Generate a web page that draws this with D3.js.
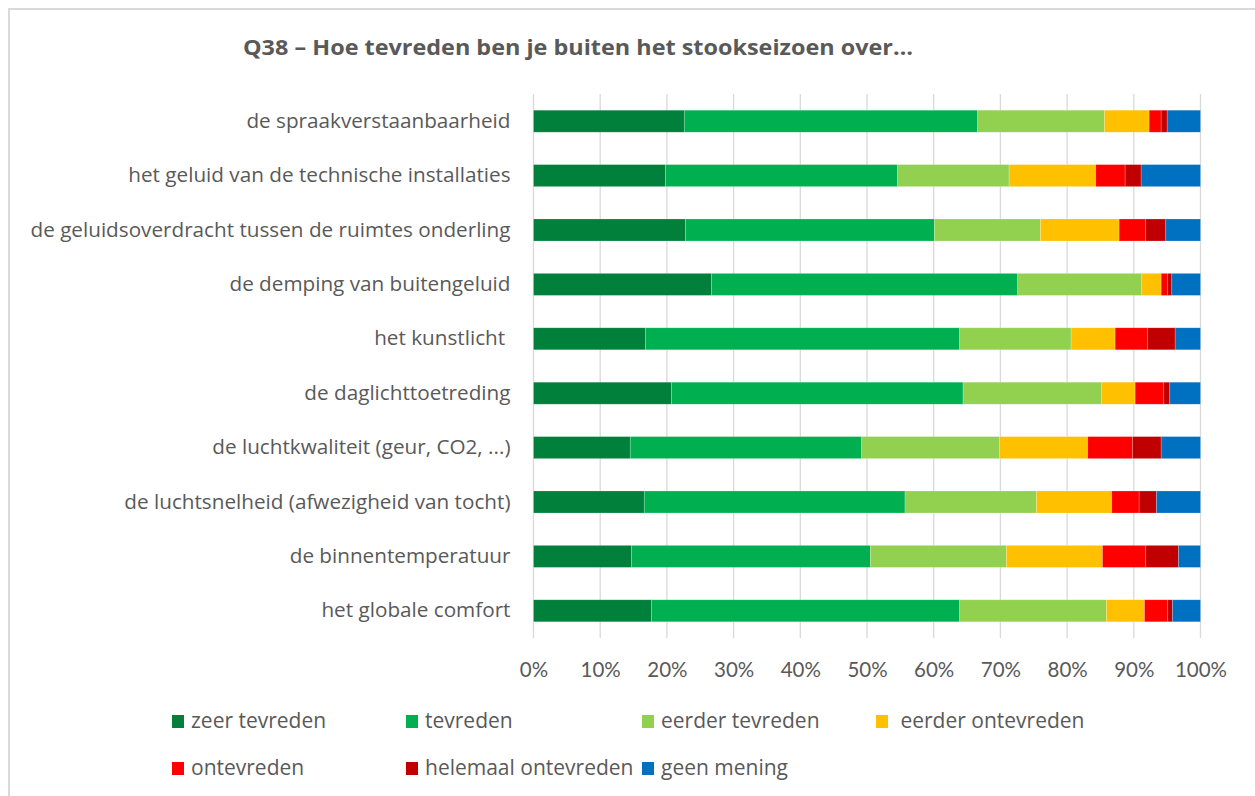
<!DOCTYPE html>
<html>
<head>
<meta charset="utf-8">
<script src="https://cdn.jsdelivr.net/npm/d3@7"></script>
<style>
  html, body { margin: 0; padding: 0; background: #fff; }
  svg { display: block; }
</style>
</head>
<body>
<svg id="chart" width="1255" height="796"></svg>
<script>
// Survey items (top to bottom)
const categories = [
  "de spraakverstaanbaarheid",
  "het geluid van de technische installaties",
  "de geluidsoverdracht tussen de ruimtes onderling",
  "de demping van buitengeluid",
  "het kunstlicht ",
  "de daglichttoetreding",
  "de luchtkwaliteit (geur, CO2, ...)",
  "de luchtsnelheid (afwezigheid van tocht)",
  "de binnentemperatuur",
  "het globale comfort"
];

// Answer options, in stacking order
const seriesNames = [
  "zeer tevreden", "tevreden", "eerder tevreden", " eerder ontevreden",
  "ontevreden", "helemaal ontevreden", "geen mening"
];
const seriesColors = ["#00803a", "#00b050", "#92d050", "#ffc000", "#ff0000", "#c00000", "#0070c0"];

// Share of answers per option (%), one array per option, same order as categories
const zeerTevreden       = [22.6, 19.8, 22.8, 26.7, 16.8, 20.7, 14.5, 16.6, 14.7, 17.7];
const tevreden           = [44.0, 34.8, 37.3, 45.9, 47.1, 43.7, 34.7, 39.1, 35.8, 46.2];
const eerderTevreden     = [19.0, 16.7, 15.9, 18.6, 16.7, 20.8, 20.7, 19.7, 20.4, 22.0];
const eerderOntevreden   = [ 6.7, 13.0, 11.8,  2.9,  6.6,  5.0, 13.2, 11.3, 14.4,  5.7];
const ontevreden         = [ 1.8,  4.4,  4.0,  1.0,  4.9,  4.3,  6.7,  4.1,  6.5,  3.5];
const helemaalOntevreden = [ 0.9,  2.4,  3.0,  0.6,  4.1,  0.9,  4.3,  2.6,  4.9,  0.7];
const geenMening         = [ 5.0,  8.9,  5.2,  4.3,  3.8,  4.6,  5.9,  6.6,  3.3,  4.2];

const xTicks = [0, 10, 20, 30, 40, 50, 60, 70, 80, 90, 100];
const titleText = "Q38 \u2013 Hoe tevreden ben je buiten het stookseizoen over\u2026";

const seriesValues = [zeerTevreden, tevreden, eerderTevreden, eerderOntevreden,
                      ontevreden, helemaalOntevreden, geenMening];

// Rows for d3.stack, normalised to 100%
const rows = categories.map((c, i) => {
  const row = { category: c };
  let total = 0;
  seriesValues.forEach(v => total += v[i]);
  seriesNames.forEach((s, k) => row[s] = seriesValues[k][i] / total * 100);
  return row;
});

const svg = d3.select("#chart");
const textColor = "#595959";
const gridColor = "#d9d9d9";
const font = "'Open Sans', sans-serif";

// Chart area frame (top and left edges)
svg.append("path")
  .attr("d", "M9,796 L9,9 L1255,9")
  .attr("fill", "none")
  .attr("stroke", gridColor)
  .attr("stroke-width", 2);

const plot = { left: 533.5, right: 1200.5, top: 94, bottom: 638 };

const x = d3.scaleLinear().domain([0, 100]).range([plot.left, plot.right]);
const y = d3.scaleBand().domain(categories).range([plot.top, plot.bottom]).paddingInner(0.595).paddingOuter(0.2975);

// Vertical gridlines
svg.append("g")
  .selectAll("line")
  .data(xTicks)
  .join("line")
  .attr("x1", d => x(d)).attr("x2", d => x(d))
  .attr("y1", plot.top).attr("y2", plot.bottom)
  .attr("stroke", gridColor)
  .attr("stroke-width", 1.3);

// Stacked bars
const stack = d3.stack().keys(seriesNames);
const layers = stack(rows);

svg.append("g")
  .selectAll("g")
  .data(layers)
  .join("g")
  .attr("fill", (d, i) => seriesColors[i])
  .selectAll("rect")
  .data(d => d)
  .join("rect")
  .attr("x", d => x(d[0]))
  .attr("width", d => Math.max(0, x(d[1]) - x(d[0])))
  .attr("y", d => y(d.data.category))
  .attr("height", y.bandwidth())
  .attr("stroke", "#ffffff")
  .attr("stroke-opacity", 0.35)
  .attr("stroke-width", 0.6);

// Category labels
const yAxis = d3.axisLeft(y).tickSize(0).tickPadding(23);
const yg = svg.append("g")
  .attr("transform", `translate(${plot.left},0)`)
  .call(yAxis);
yg.select(".domain").remove();
yg.selectAll("text")
  .attr("fill", textColor)
  .style("font-family", font)
  .style("font-size", "20.7px")
  .style("white-space", "pre");

// Percentage axis labels
const xAxis = d3.axisBottom(x).tickValues(xTicks).tickFormat(d => d + "%").tickSize(0).tickPadding(24);
const xg = svg.append("g")
  .attr("transform", `translate(0,${plot.bottom})`)
  .call(xAxis);
xg.select(".domain").remove();
xg.selectAll("text")
  .attr("fill", textColor)
  .style("font-family", "Lato, sans-serif")
  .style("font-size", "20.5px");

// Title
svg.append("text")
  .attr("x", 578)
  .attr("y", 55)
  .attr("text-anchor", "middle")
  .attr("fill", textColor)
  .style("font-family", "'Open Sans', sans-serif")
  .style("font-weight", "700")
  .style("font-size", "22px")
  .attr("textLength", 670)
  .attr("lengthAdjust", "spacingAndGlyphs")
  .text(titleText);

// Legend
const legendPos = [
  [172, 721], [406, 721], [642, 721], [876, 721],
  [172, 768], [406, 768], [642, 768]
];
const legend = svg.append("g")
  .selectAll("g")
  .data(seriesNames)
  .join("g")
  .attr("transform", (d, i) => `translate(${legendPos[i][0]},${legendPos[i][1]})`);
legend.append("rect")
  .attr("x", 0).attr("y", -6)
  .attr("width", 12).attr("height", 13)
  .attr("fill", (d, i) => seriesColors[i]);
legend.append("text")
  .attr("x", 19).attr("y", 0)
  .attr("dy", "0.35em")
  .attr("fill", textColor)
  .style("font-family", font)
  .style("font-size", "21px")
  .style("white-space", "pre")
  .text(d => d);
</script>
</body>
</html>
